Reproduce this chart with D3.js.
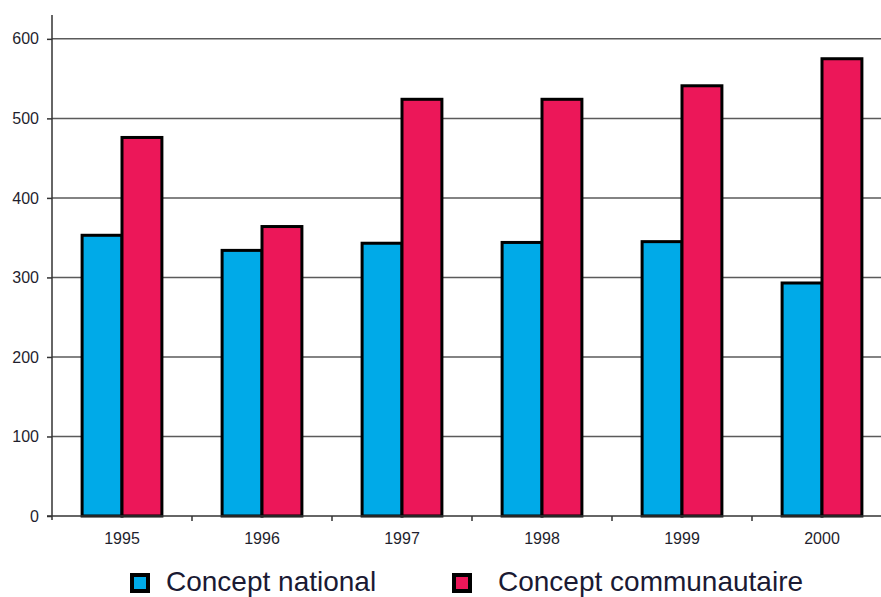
<!DOCTYPE html>
<html>
<head>
<meta charset="utf-8">
<script src="https://cdn.jsdelivr.net/npm/d3@7"></script>
<style>
  body { margin: 0; background: #fff; }
  svg { display: block; font-family: "Liberation Sans", Arial, sans-serif; }
</style>
</head>
<body>
<div id="chart"></div>
<script>
const years = ["1995", "1996", "1997", "1998", "1999", "2000"];
const national = [353, 334, 343, 344, 345, 293];
const communautaire = [476, 364, 524, 524, 541, 575];
const seriesNames = ["Concept national", "Concept communautaire"];
const seriesColors = ["#00aae8", "#ec1759"];
const yTicks = [0, 100, 200, 300, 400, 500, 600];

const W = 881, H = 597;
const plotLeft = 52, plotRight = 892, plotTop = 15, plotBottom = 516;

const svg = d3.select("#chart").append("svg")
    .attr("width", W)
    .attr("height", H);

const y = d3.scaleLinear().domain([0, 630]).range([plotBottom, plotTop]);

const x0 = d3.scaleBand()
    .domain(years)
    .range([plotLeft, plotRight])
    .paddingInner(0.43)
    .paddingOuter(0.215);

const x1 = d3.scaleBand()
    .domain(seriesNames)
    .range([0, x0.bandwidth()]);

// category boundaries for tick marks
const xb = d3.scaleBand().domain(years).range([plotLeft, plotRight]);

// gridlines
svg.append("g")
    .selectAll("line")
    .data(yTicks.filter(d => d > 0))
    .enter().append("line")
    .attr("x1", plotLeft).attr("x2", W)
    .attr("y1", d => y(d)).attr("y2", d => y(d))
    .attr("stroke", "#5a5a5a")
    .attr("stroke-width", 1.5);

// y axis
const yAxis = svg.append("g")
    .attr("transform", "translate(" + plotLeft + ",0)")
    .call(d3.axisLeft(y).tickValues(yTicks).tickSize(5).tickPadding(8));
yAxis.select(".domain").remove();
yAxis.selectAll(".tick line").attr("stroke", "#333").attr("stroke-width", 1.5);
yAxis.selectAll("text").attr("font-size", 16).attr("fill", "#1f1f2e")
    .attr("font-family", "Liberation Sans, Arial, sans-serif");
svg.append("line")
    .attr("x1", plotLeft).attr("x2", plotLeft)
    .attr("y1", plotTop).attr("y2", plotBottom + 4)
    .attr("stroke", "#333").attr("stroke-width", 1.5);

// bars
const rows = years.map((yr, i) => ({ year: yr, values: [national[i], communautaire[i]] }));
const groups = svg.append("g")
    .selectAll("g")
    .data(rows)
    .enter().append("g")
    .attr("transform", d => "translate(" + x0(d.year) + ",0)");

groups.selectAll("rect")
    .data(d => d.values.map((v, j) => ({ name: seriesNames[j], value: v, color: seriesColors[j] })))
    .enter().append("rect")
    .attr("x", d => x1(d.name))
    .attr("y", d => y(d.value))
    .attr("width", x1.bandwidth())
    .attr("height", d => plotBottom - y(d.value))
    .attr("fill", d => d.color)
    .attr("stroke", "#000")
    .attr("stroke-width", 3);

// x axis
svg.append("line")
    .attr("x1", plotLeft - 5).attr("x2", W)
    .attr("y1", plotBottom).attr("y2", plotBottom)
    .attr("stroke", "#333").attr("stroke-width", 1.5);

svg.append("g")
    .selectAll("line")
    .data(years.slice(1))
    .enter().append("line")
    .attr("x1", d => xb(d)).attr("x2", d => xb(d))
    .attr("y1", plotBottom).attr("y2", plotBottom + 5)
    .attr("stroke", "#333").attr("stroke-width", 1.5);

const xAxis = svg.append("g")
    .attr("transform", "translate(0," + plotBottom + ")")
    .call(d3.axisBottom(x0).tickSize(0).tickPadding(17));
xAxis.select(".domain").remove();
xAxis.selectAll("text").attr("font-size", 16).attr("fill", "#1f1f2e")
    .attr("font-family", "Liberation Sans, Arial, sans-serif");

// legend
const legendBoxX = [130, 452];
const legendTextX = [166, 498];
const legend = svg.append("g")
    .selectAll("g")
    .data(seriesNames)
    .enter().append("g");
legend.append("rect")
    .attr("x", (d, i) => legendBoxX[i] + 2).attr("y", 575)
    .attr("width", 16).attr("height", 16)
    .attr("fill", (d, i) => seriesColors[i])
    .attr("stroke", "#000").attr("stroke-width", 4);
legend.append("text")
    .attr("x", (d, i) => legendTextX[i]).attr("y", 591)
    .attr("font-size", 28)
    .attr("fill", "#1a1a33")
    .text(d => d);
</script>
</body>
</html>
